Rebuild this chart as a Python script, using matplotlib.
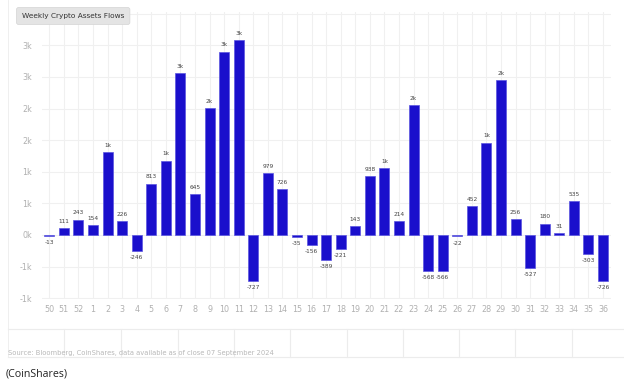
import math
import matplotlib
matplotlib.use("Agg")
import matplotlib.pyplot as plt
from matplotlib.lines import Line2D

weeks = ["50", "51", "52"] + [str(i) for i in range(1, 37)]
flows = [-13, 111, 243, 154, 1308, 226, -246, 813, 1176, 2558, 645, 2014, 2901, 3080,
         -727, 979, 726, -35, -156, -389, -221, 143, 938, 1055, 214, 2052, -568, -566,
         -22, 452, 1461, 2452, 256, -527, 180, 31, 535, -303, -726]
yticks = [-1000, -500, 0, 500, 1000, 1500, 2000, 2500, 3000]

W, H = 624, 383


def kfmt(v):
    # round half up, like the original chart's "1k" for 500
    n = math.floor(abs(v) / 1000 + 0.5)
    return ("-" if v < 0 else "") + f"{n}k"


def val_label(v):
    return kfmt(v) if abs(v) >= 1000 else str(v)


fig = plt.figure(figsize=(W / 100, H / 100), dpi=100)
fig.patch.set_facecolor("white")
ax = fig.add_axes([42 / W, (H - 299) / H, (611 - 42) / W, (299 - 11.7) / H])

x = list(range(len(weeks)))
ax.bar(x, flows, width=0.68, color="#1a0fcc", edgecolor="#5a55e0", linewidth=0.5, zorder=3)

for xi, v in zip(x, flows):
    if v >= 0:
        ax.annotate(val_label(v), (xi, v), xytext=(0, 3), textcoords="offset points",
                    ha="center", va="bottom", fontsize=4.2, color="#444444")
    else:
        ax.annotate(val_label(v), (xi, v), xytext=(0, -3), textcoords="offset points",
                    ha="center", va="top", fontsize=4.2, color="#444444")

ax.set_xlim(-0.5, 38.55)
ax.set_ylim(-1013, 3533)
ax.set_xticks(x)
ax.set_xticklabels(weeks)
ax.set_yticks(yticks)
ax.set_yticklabels([kfmt(t) for t in yticks])
ax.tick_params(axis="both", length=0, labelsize=5.8, labelcolor="#b0b0b0")
ax.tick_params(axis="x", pad=4)
ax.tick_params(axis="y", pad=7)
ax.grid(True, color="#f0f0f0", linewidth=0.8, zorder=0)
ax.axhline(3500, color="#f0f0f0", linewidth=0.8, zorder=0)
for s in ax.spines.values():
    s.set_visible(False)

# frame lines of the lower panel
line_c = "#ececec"
fig.add_artist(Line2D([8 / W, 8 / W], [1 - 357 / H, 1], color=line_c, linewidth=0.6))
for yy in (329, 357):
    fig.add_artist(Line2D([8 / W, 1], [1 - yy / H, 1 - yy / H], color=line_c, linewidth=0.8))
for xx in (64, 121, 178, 234, 290, 347, 403, 459, 515, 572):
    fig.add_artist(Line2D([xx / W, xx / W], [1 - 357 / H, 1 - 329 / H], color=line_c, linewidth=0.8))

# title badge
fig.text(22 / W, 1 - 16 / H, "Weekly Crypto Assets Flows", fontsize=5.3, color="#333333",
         ha="left", va="center", zorder=5,
         bbox=dict(boxstyle="round,pad=0.75,rounding_size=0.3", facecolor="#e4e4e4",
                   edgecolor="#d4d4d4", linewidth=0.5))

fig.text(8 / W, 1 - 355 / H, "Source: Bloomberg, CoinShares, data available as of close 07 September 2024",
         fontsize=4.9, color="#b8b8b8", ha="left", va="baseline")
fig.text(6 / W, 1 - 374 / H, "(CoinShares)", fontsize=7.7, color="#222222", ha="left",
         va="center", family="Open Sans")

fig.savefig("out.png", dpi=100)
